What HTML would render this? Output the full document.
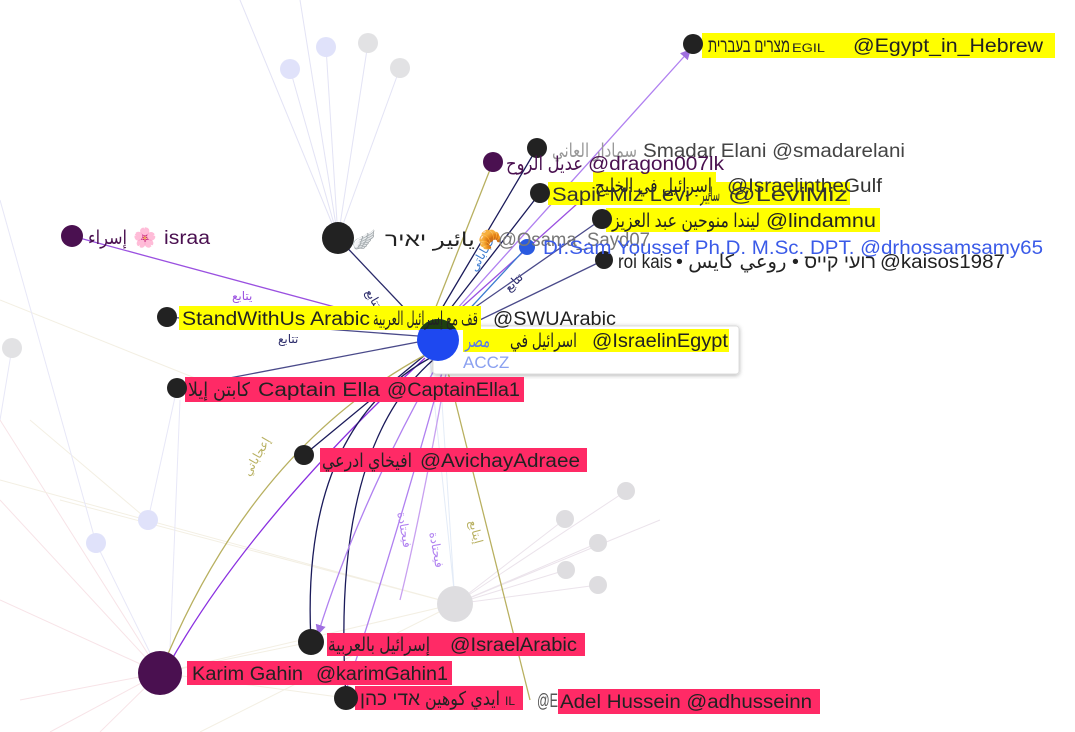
<!DOCTYPE html>
<html><head><meta charset="utf-8"><style>
html,body{margin:0;padding:0;background:#fff;}
svg{display:block;}
text{font-family:"Liberation Sans","DejaVu Sans","Noto Sans CJK SC",sans-serif;font-size:19px;}
.s{font-size:12px;}
</style></head><body>
<svg width="1075" height="732" viewBox="0 0 1075 732" xmlns="http://www.w3.org/2000/svg">
<defs>
<marker id="a" markerWidth="8" markerHeight="8" refX="7" refY="4" orient="auto"><path d="M0,0 L8,4 L0,8z" fill="#a070e0"/></marker>
<filter id="sh"><feDropShadow dx="0" dy="1" stdDeviation="2" flood-opacity="0.3"/></filter>
<clipPath id="cp"><rect x="410" y="310" width="60" height="19"/></clipPath>
</defs>
<g stroke-width="1" fill="none" opacity="0.5">
<path d="M290,69 L338,238 M326,47 L338,238 M368,43 L338,238 M400,68 L338,238 M300,0 L338,238 M240,0 L338,238" stroke="#c8c8ec"/>
<path d="M0,420 L160,673 M0,500 L160,673 M50,732 L160,673 M100,732 L160,673 M0,600 L160,673 M20,700 L160,673" stroke="#f0c8d0"/>
<path d="M455,604 L565,519 M455,604 L626,491 M455,604 L598,543 M455,604 L566,570 M455,604 L598,585 M455,604 L660,520" stroke="#d8c8d8"/>
<path d="M160,673 L455,604 M60,500 L455,604 M0,480 L455,604 M160,673 L346,698 M160,673 L311,642 M200,732 L455,604 M0,300 L200,380 M30,420 L148,520" stroke="#e8e0c8"/>
<path d="M148,520 L177,388 M96,543 L160,673 M180,400 L170,650 M12,348 L0,420 M0,200 L96,543" stroke="#d0d0f0"/>
<path d="M455,604 L438,340 M430,360 L455,600" stroke="#c8d8f0"/>
</g>
<g fill="none" stroke-width="1.3">
<path d="M72,236 L420,330" stroke="#9a50e0"/>
<path d="M338,238 L425,330" stroke="#2a2a6a"/>
<path d="M167,317 L418,336" stroke="#4a4a8a"/>
<path d="M177,388 L418,342" stroke="#4a4a8a"/>
<path d="M493,162 L430,322" stroke="#b8b060"/>
<path d="M537,148 L435,320" stroke="#1a1a5a"/>
<path d="M540,193 L440,322" stroke="#1a1a5a"/>
<path d="M597,186 L443,324" stroke="#9a50e0"/>
<path d="M602,219 L448,326" stroke="#4a4a8a"/>
<path d="M527,247 L450,330" stroke="#3a7ad0"/>
<path d="M604,260 L455,332" stroke="#4a4a8a"/>
<path d="M438,330 L690,50" stroke="#b080f0" marker-end="url(#a)"/>
<path d="M304,455 L425,355" stroke="#1a1a5a"/>
<path d="M160,673 Q250,450 425,355" stroke="#b8b060"/>
<path d="M425,358 Q250,520 168,666" stroke="#8a30e0" marker-end="url(#a)"/>
<path d="M311,642 Q300,430 430,358" stroke="#1a1a5a"/>
<path d="M346,698 Q330,450 433,360" stroke="#1a1a5a"/>
<path d="M440,360 Q360,500 318,634" stroke="#b080f0" marker-end="url(#a)"/>
<path d="M445,362 Q390,560 346,690" stroke="#b080f0"/>
<path d="M448,362 Q420,520 400,600" stroke="#c8a0f0"/>
<path d="M445,360 L530,700" stroke="#b8b060"/>
</g>
<g>
<text x="232" y="300" class="s" fill="#9a50e0">يتابع</text>
<text x="365" y="300" class="s" fill="#2a2a6a" transform="rotate(60 372 296)">تتابع</text>
<text x="278" y="343" class="s" fill="#2a2a6a">تتابع</text>
<text x="242" y="472" class="s" fill="#b8b060" transform="rotate(-60 250 468)">إعجاباتي</text>
<text x="470" y="530" class="s" fill="#b8b060" transform="rotate(75 475 525)">إيتابع</text>
<text x="398" y="520" class="s" fill="#b080f0" transform="rotate(80 402 516)">فيحتادة</text>
<text x="430" y="540" class="s" fill="#b080f0" transform="rotate(80 434 536)">فيحتادة</text>
<text x="470" y="270" class="s" fill="#3a7ad0" transform="rotate(-60 475 266)">إعجاباتي</text>
<text x="505" y="290" class="s" fill="#2a2a6a" transform="rotate(-45 510 286)">تتابع</text>
</g>
<g>
<circle cx="290" cy="69" r="10" fill="#e0e2fa"/>
<circle cx="326" cy="47" r="10" fill="#e0e2fa"/>
<circle cx="368" cy="43" r="10" fill="#e2e2e4"/>
<circle cx="400" cy="68" r="10" fill="#e2e2e4"/>
<circle cx="148" cy="520" r="10" fill="#e0e2fa"/>
<circle cx="96" cy="543" r="10" fill="#e0e2fa"/>
<circle cx="12" cy="348" r="10" fill="#e2e2e4"/>
<circle cx="455" cy="604" r="18" fill="#dedde0"/>
<circle cx="565" cy="519" r="9" fill="#dedde0"/>
<circle cx="626" cy="491" r="9" fill="#dedde0"/>
<circle cx="598" cy="543" r="9" fill="#dedde0"/>
<circle cx="566" cy="570" r="9" fill="#dedde0"/>
<circle cx="598" cy="585" r="9" fill="#dedde0"/>
</g>
<rect x="433" y="326" width="306" height="48" rx="3" fill="#fff" stroke="#ddd" filter="url(#sh)"/>
<rect x="702" y="33" width="353" height="25" fill="#ffff00"/>
<rect x="593" y="172" width="123" height="24" fill="#ffff00"/>
<rect x="548" y="182" width="302" height="23" fill="#ffff00"/>
<rect x="606" y="208" width="274" height="24" fill="#ffff00"/>
<rect x="179" y="306" width="302" height="24" fill="#ffff00"/>
<rect x="463" y="329" width="266" height="23" fill="#ffff00"/>
<rect x="185" y="377" width="339" height="25" fill="#ff2a66"/>
<rect x="320" y="448" width="267" height="24" fill="#ff2a66"/>
<rect x="327" y="633" width="258" height="23" fill="#ff2a66"/>
<rect x="187" y="661" width="265" height="24" fill="#ff2a66"/>
<rect x="355" y="686" width="168" height="24" fill="#ff2a66"/>
<rect x="558" y="689" width="262" height="25" fill="#ff2a66"/>
<circle cx="693" cy="44" r="10" fill="#222"/>
<circle cx="537" cy="148" r="10" fill="#222"/>
<circle cx="493" cy="162" r="10" fill="#4a1050"/>
<circle cx="540" cy="193" r="10" fill="#222"/>
<circle cx="602" cy="219" r="10" fill="#222"/>
<circle cx="604" cy="260" r="9" fill="#222"/>
<circle cx="527" cy="247" r="8" fill="#2a5ae0"/>
<circle cx="338" cy="238" r="16" fill="#222"/>
<circle cx="72" cy="236" r="11" fill="#4a1050"/>
<circle cx="167" cy="317" r="10" fill="#222"/>
<circle cx="177" cy="388" r="10" fill="#222"/>
<circle cx="304" cy="455" r="10" fill="#222"/>
<circle cx="311" cy="642" r="13" fill="#222"/>
<circle cx="346" cy="698" r="12" fill="#222"/>
<circle cx="160" cy="673" r="22" fill="#4a1050"/>
<circle cx="438" cy="340" r="21" fill="#1e48f0"/>
<circle cx="438" cy="340" r="21" fill="#1e4010" clip-path="url(#cp)"/>
<g fill="#222">
<text x="708" y="52" textLength="82" lengthAdjust="spacingAndGlyphs">מצרים בעברית</text>
<text x="792" y="52" class="s" textLength="33" lengthAdjust="spacingAndGlyphs">EGIL</text>
<text x="853" y="52" textLength="190" lengthAdjust="spacingAndGlyphs">@Egypt_in_Hebrew</text>
<text x="552" y="157" fill="#999" textLength="85" lengthAdjust="spacingAndGlyphs">سمادار العاني</text>
<text x="643" y="157" fill="#444" textLength="262" lengthAdjust="spacingAndGlyphs">Smadar Elani @smadarelani</text>
<text x="506" y="170" fill="#4a1050" textLength="77" lengthAdjust="spacingAndGlyphs">عديل الروح</text>
<text x="588" y="170" fill="#4a1050" textLength="136" lengthAdjust="spacingAndGlyphs">@dragon007lk</text>
<text x="595" y="192" textLength="117" lengthAdjust="spacingAndGlyphs">إسرائيل في الخليج</text>
<text x="727" y="192" fill="#333" textLength="155" lengthAdjust="spacingAndGlyphs">@IsraelintheGulf</text>
<text x="552" y="201" fill="#333" textLength="138" lengthAdjust="spacingAndGlyphs">Sapir Miz Levi</text>
<text x="695" y="201" fill="#333" textLength="25" lengthAdjust="spacingAndGlyphs">- سابير</text>
<text x="728" y="201" fill="#333" textLength="120" lengthAdjust="spacingAndGlyphs">@LeviMiz</text>
<text x="612" y="227" textLength="148" lengthAdjust="spacingAndGlyphs">ليندا منوحين عبد العزيز</text>
<text x="766" y="227" textLength="110" lengthAdjust="spacingAndGlyphs">@lindamnu</text>
<text x="352" y="246" fill="#a090c0">🪽</text>
<text x="385" y="246" textLength="90" lengthAdjust="spacingAndGlyphs">يائير יאיר</text>
<text x="478" y="246" fill="#e8a820">🥐</text>
<text x="498" y="246" fill="#777" textLength="152" lengthAdjust="spacingAndGlyphs">@Osama_Sayd07</text>
<text x="543" y="254" fill="#3a5ae8" textLength="500" lengthAdjust="spacingAndGlyphs">Dr.Sam Youssef Ph.D. M.Sc. DPT.  @drhossamsamy65</text>
<text x="618" y="268" textLength="54" lengthAdjust="spacingAndGlyphs">roi kais</text>
<text x="676" y="268" textLength="200" lengthAdjust="spacingAndGlyphs">• רועי קייס • روعي كايس</text>
<text x="880" y="268" textLength="125" lengthAdjust="spacingAndGlyphs">@kaisos1987</text>
<text x="88" y="244" fill="#4a1050" textLength="39" lengthAdjust="spacingAndGlyphs">إسراء</text>
<text x="133" y="244" fill="#f06090">🌸</text>
<text x="164" y="244" fill="#4a1050" textLength="46" lengthAdjust="spacingAndGlyphs">israa</text>
<text x="182" y="325" textLength="188" lengthAdjust="spacingAndGlyphs">StandWithUs Arabic</text>
<text x="373" y="325" textLength="105" lengthAdjust="spacingAndGlyphs">قف مع إسرائيل العربية</text>
<text x="493" y="325" textLength="123" lengthAdjust="spacingAndGlyphs">@SWUArabic</text>
<text x="465" y="347" fill="#5a7ae8" textLength="25" lengthAdjust="spacingAndGlyphs">مصر</text>
<text x="510" y="347" textLength="67" lengthAdjust="spacingAndGlyphs">اسرائيل في</text>
<text x="592" y="347" textLength="136" lengthAdjust="spacingAndGlyphs">@IsraelinEgypt</text>
<text x="463" y="368" fill="#8aa0f0" style="font-size:17px">ACCZ</text>
<text x="188" y="396" textLength="62" lengthAdjust="spacingAndGlyphs">كابتن إيلا</text>
<text x="258" y="396" textLength="122" lengthAdjust="spacingAndGlyphs">Captain Ella</text>
<text x="387" y="396" textLength="133" lengthAdjust="spacingAndGlyphs">@CaptainElla1</text>
<text x="322" y="467" textLength="90" lengthAdjust="spacingAndGlyphs">افيخاي ادرعي</text>
<text x="420" y="467" textLength="160" lengthAdjust="spacingAndGlyphs">@AvichayAdraee</text>
<text x="328" y="651" textLength="102" lengthAdjust="spacingAndGlyphs">إسرائيل بالعربية</text>
<text x="450" y="651" textLength="127" lengthAdjust="spacingAndGlyphs">@IsraelArabic</text>
<text x="192" y="680" textLength="111" lengthAdjust="spacingAndGlyphs">Karim Gahin</text>
<text x="316" y="680" textLength="132" lengthAdjust="spacingAndGlyphs">@karimGahin1</text>
<text x="360" y="705" textLength="60" lengthAdjust="spacingAndGlyphs">אדי כהן</text>
<text x="425" y="705" textLength="75" lengthAdjust="spacingAndGlyphs">ايدي كوهين</text>
<text x="505" y="705" class="s">IL</text>
<text x="537" y="707" fill="#555" textLength="21" lengthAdjust="spacingAndGlyphs">@E</text>
<text x="560" y="708" textLength="252" lengthAdjust="spacingAndGlyphs">Adel Hussein @adhusseinn</text>
</g>
</svg>
</body></html>
